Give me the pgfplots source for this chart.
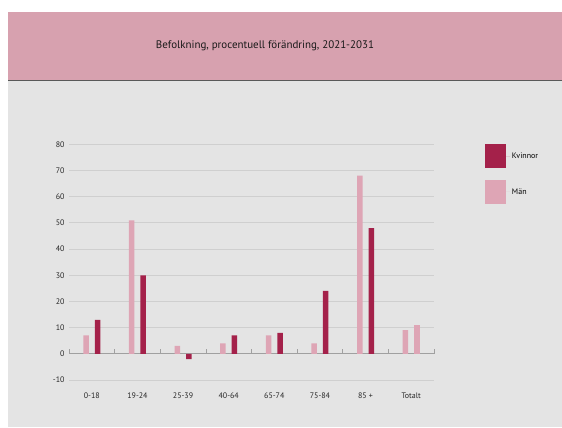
\documentclass[border=0pt]{standalone}
\usepackage{fontspec}
\setmainfont{PT Sans}
\usepackage{pgfplots}
\pgfplotsset{compat=1.18}
\definecolor{hdr}{HTML}{D7A1AF}
\definecolor{bg}{HTML}{E4E4E4}
\definecolor{kv}{HTML}{A4214A}
\definecolor{mn}{HTML}{DEA5B5}
\definecolor{grd}{HTML}{CFCFCF}
\definecolor{zl}{HTML}{A0A0A0}
\begin{document}
\begin{tikzpicture}[x=1bp,y=1bp]
\path[use as bounding box] (0,0) rectangle (562,427);
\fill[white] (0,0) rectangle (562,427);
\fill[bg] (8,0) rectangle (562,347);
\fill[hdr] (8,347) rectangle (562,415);
\draw[black!65,line width=1.2bp] (8,346.6) -- (562,346.6);
\node[font=\fontsize{11}{13}\selectfont, text=black!90] at (265,381) {Befolkning, procentuell förändring, 2021-2031};
\begin{axis}[
  at={(69bp,47bp)}, anchor=south west,
  scale only axis, width=365bp, height=235.7bp,
  xmin=-0.5, xmax=7.5, ymin=-10, ymax=80,
  axis line style={draw=none},
  ytick={-10,0,...,80},
  xtick={0,...,7},
  xticklabels={0-18,19-24,25-39,40-64,65-74,75-84,85 +,Totalt},
  major tick length=0pt,
  ymajorgrids, grid style={grd,line width=0.9bp},
  tick label style={font=\fontsize{8}{9}\selectfont, text=black!85},
  /pgf/number format/assume math mode=true,
  xticklabel style={yshift=-9bp},
  yticklabel style={xshift=-1bp},
  ybar, bar width=5.5bp,
  clip=false,
  reverse legend,
  legend style={at={(1.131,1.0)}, anchor=north west, yshift=2bp, draw=none, fill=none,
     font=\fontsize{8}{9}\selectfont, row sep=11.5bp},
  legend cell align=left,
  legend image code/.code={\fill[#1] (0bp,-12bp) rectangle (21bp,12bp); \path (21bp,0bp) -- (25bp,0bp);},
]
\draw[zl, line width=0.9bp] (axis cs:-0.5,0) -- (axis cs:7.5,0);
\pgfplotsinvokeforeach{-0.5,0.5,...,7.5}{
  \draw[zl, line width=0.6bp] (axis cs:#1,0) -- ([yshift=5bp]axis cs:#1,0);
}
\addplot[fill=mn, draw=none, bar shift=-5.7bp] coordinates {
  (0,7) (1,51) (2,3) (3,4) (4,7) (5,4) (6,68) (7,9)};
\addlegendentry{Män}
\addplot[fill=kv, draw=none, bar shift=5.7bp] coordinates {
  (0,13) (1,30) (2,-2) (3,7) (4,8) (5,24) (6,48)};
\addlegendentry{Kvinnor}
\addplot[fill=mn, draw=none, bar shift=5.7bp, forget plot] coordinates {(7,11)};
\end{axis}
\end{tikzpicture}
\end{document}
